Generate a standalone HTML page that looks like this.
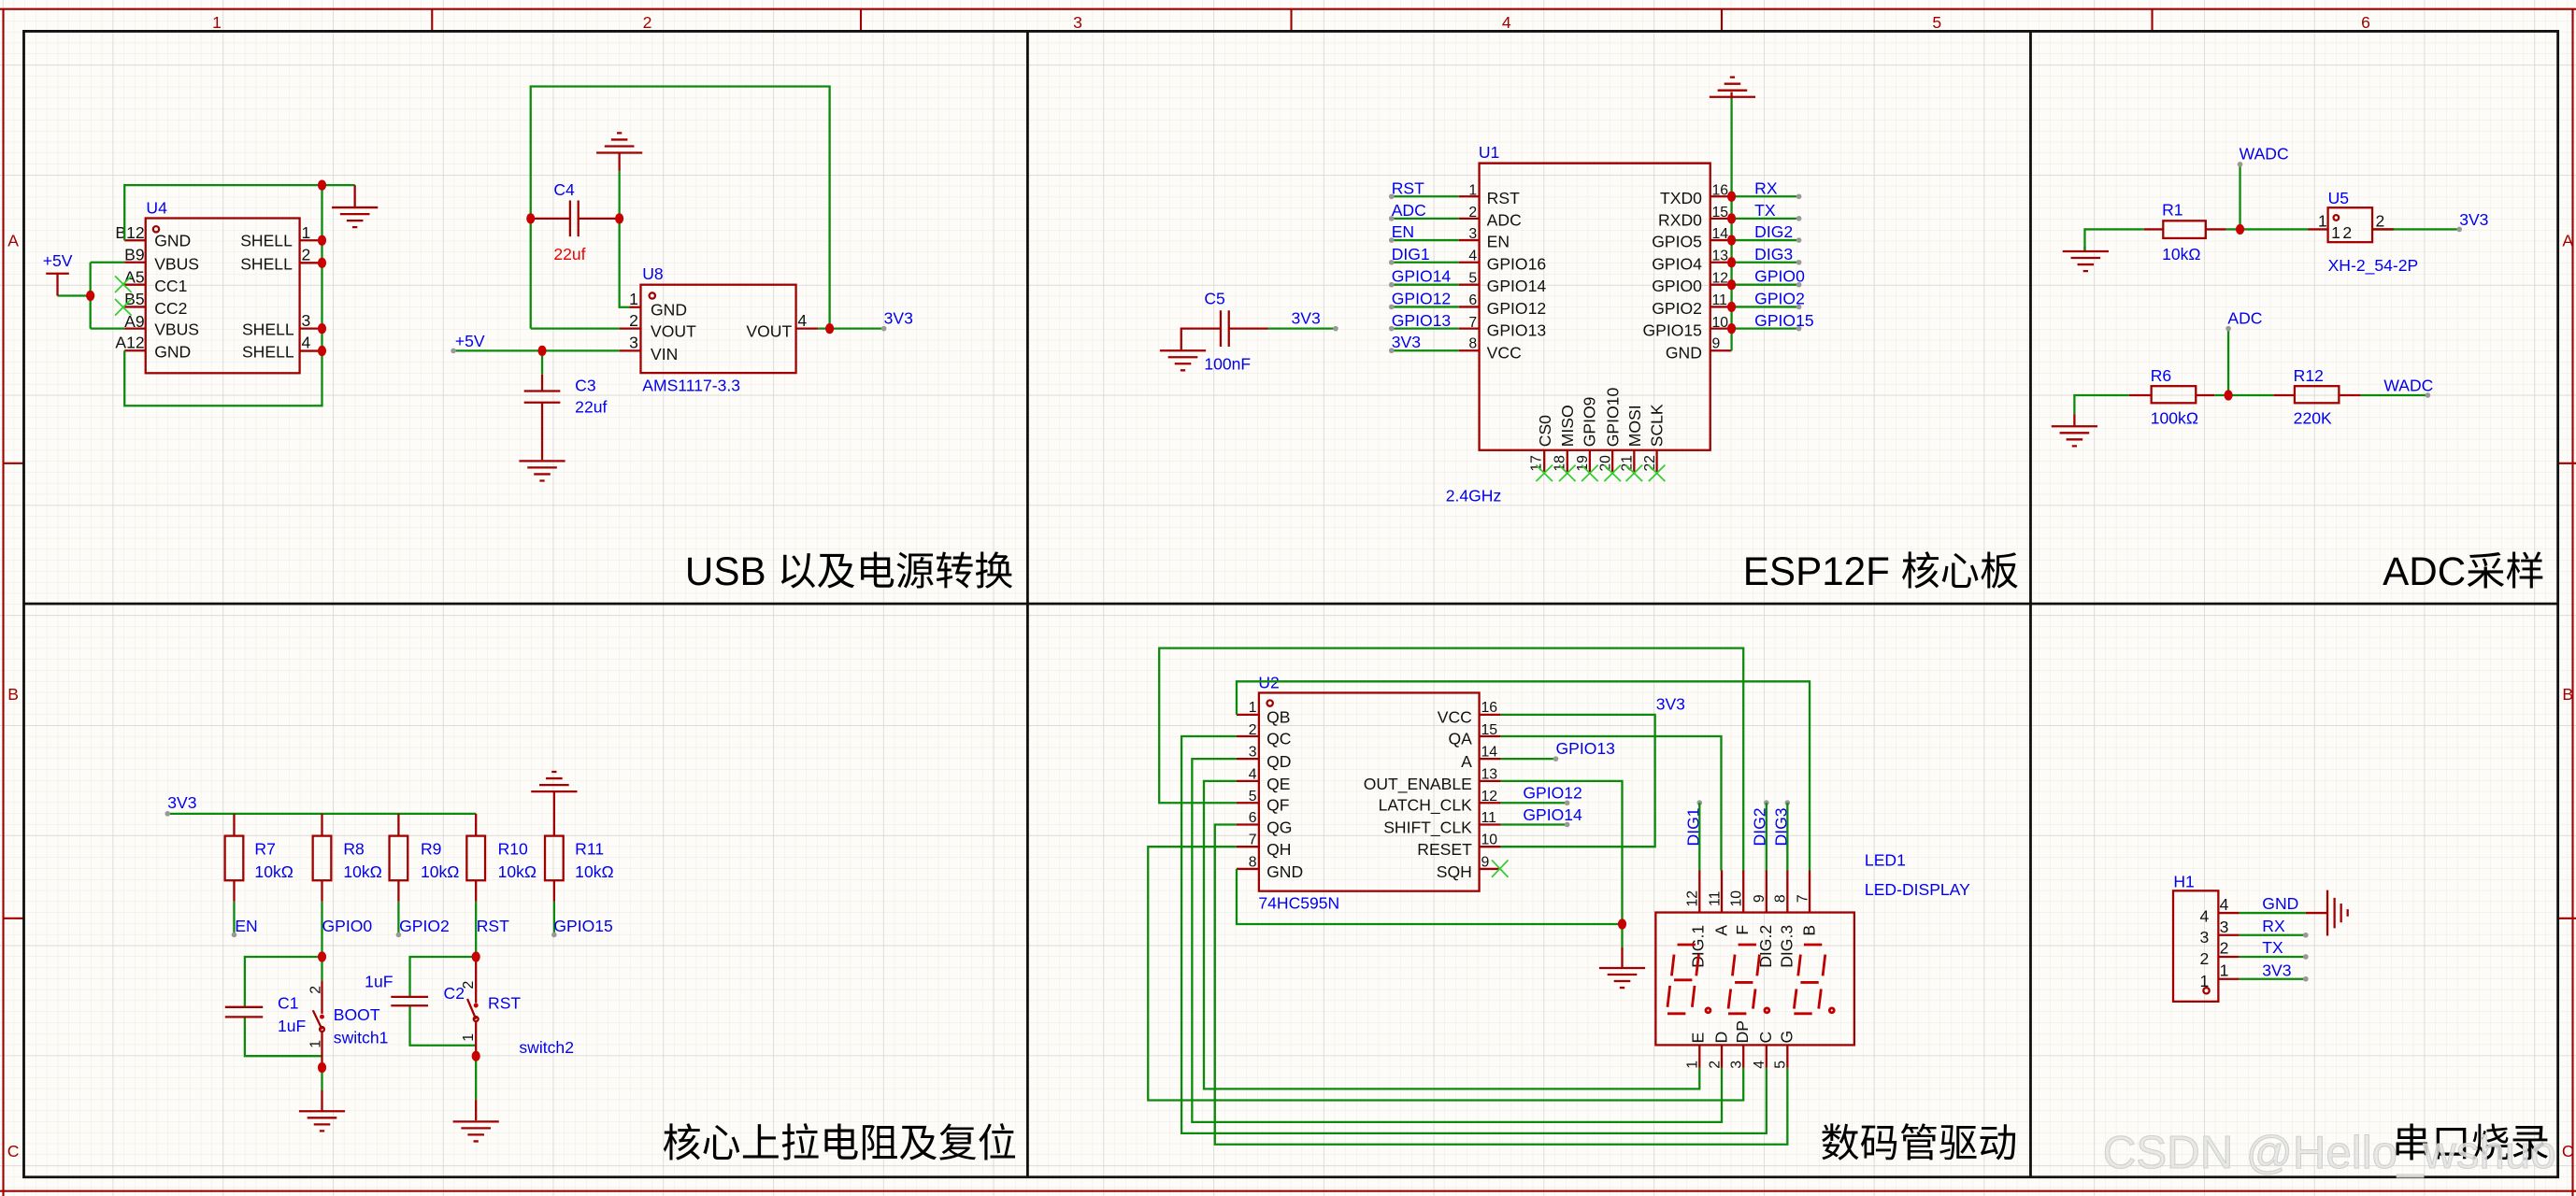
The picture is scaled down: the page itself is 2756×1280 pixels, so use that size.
<!DOCTYPE html>
<html><head><meta charset="utf-8"><style>
html,body{margin:0;padding:0;background:#fdfcf8;}
svg{display:block}
text{font-family:"Liberation Sans Narrow","Liberation Sans","Noto Sans CJK SC",sans-serif;}
.r{stroke:#a00000;fill:none;stroke-width:1.3}
.g{stroke:#0b8a0b;fill:none;stroke-width:1.3}
.x{stroke:#3c3;fill:none;stroke-width:1}
.b{fill:#0000ee;font-size:10px}
.k{fill:#111;font-size:10px}
.n{fill:#111;font-size:9px}
.t{fill:#000;font-size:24px;font-family:"Liberation Sans","Noto Sans CJK SC",sans-serif}
.cf{fill:#a00000;font-size:10px;font-family:"Liberation Serif",serif}
</style></head><body>
<svg width="2756" height="1280" viewBox="0 0 1568 728" preserveAspectRatio="none" xmlns="http://www.w3.org/2000/svg">
<defs>
<pattern id="fg" x="1.6" y="5.9" width="6.7" height="6.7" patternUnits="userSpaceOnUse"><path d="M0 0H6.7M0 0V6.7" stroke="#ebe9e2" stroke-width="0.5" fill="none"/></pattern>
<pattern id="cg" x="1.6" y="39.4" width="67" height="67" patternUnits="userSpaceOnUse"><path d="M0 0H67M0 0V67" stroke="#d3d3d3" stroke-width="0.8" fill="none"/></pattern>
<g id="gnd"><path class="r" d="M-14 0H14M-9 4H9M-5 8H5M-1.5 12H1.5"/></g>
<g id="gnds"><path class="r" d="M-14 0H14M-9 4H9M-5 8H5M-1.5 12H1.5"/></g>
</defs>
<rect width="1568" height="728" fill="#fdfcf8"/>
<rect width="1568" height="728" fill="url(#fg)"/>
<rect width="1568" height="728" fill="url(#cg)"/>

<!-- frame -->
<path d="M0 5.5H1568M2 5.5V728M1566 5.5V728M0 725H1568" stroke="#a00000" stroke-width="1.2" fill="none"/>
<path d="M263 5.5V19M524 5.5V19M786 5.5V19M1048 5.5V19M1310 5.5V19M2 282H14M2 559H14M1557 282H1568M1557 559H1568" stroke="#a00000" stroke-width="1.2"/>
<g class="cf" text-anchor="middle">
<text x="132" y="17">1</text><text x="394" y="17">2</text><text x="656" y="17">3</text><text x="917" y="17">4</text><text x="1179" y="17">5</text><text x="1440" y="17">6</text>
<text x="8" y="150">A</text><text x="8" y="426">B</text><text x="8" y="704">C</text>
<text x="1563" y="150">A</text><text x="1563" y="426">B</text><text x="1563" y="704">C</text>
</g>
<path d="M14.5 19H1557V716.5H14.5Z M14.5 367.5H1557 M625.5 19V716.5 M1236 19V716.5" stroke="#111" stroke-width="1.6" fill="none"/>

<!-- titles -->
<text class="t" x="617" y="356" text-anchor="end">USB 以及电源转换</text>
<text class="t" x="1229" y="356" text-anchor="end">ESP12F 核心板</text>
<text class="t" x="1549" y="356" text-anchor="end">ADC采样</text>
<text class="t" x="619" y="704" text-anchor="end">核心上拉电阻及复位</text>
<text class="t" x="1228" y="704" text-anchor="end">数码管驱动</text>
<text class="t" x="1552" y="704" text-anchor="end">串口烧录</text>

<!-- ===== USB ===== -->
<rect x="88.6" y="132.8" width="93.8" height="94.3" class="r"/>
<circle cx="95" cy="139.5" r="1.8" class="r"/>
<text class="b" x="89" y="130">U4</text>
<path class="r" d="M75.8 146.3H88.6M75.8 159.7H88.6M75.8 173.3H88.6M75.8 186.8H88.6M75.8 200H88.6M75.8 213.4H88.6M182.4 146.3H196M182.4 160H196M182.4 200H196M182.4 213.6H196"/>
<g class="k" text-anchor="end"><text x="88" y="145">B12</text><text x="88" y="158.5">B9</text><text x="88" y="172">A5</text><text x="88" y="185.5">B5</text><text x="88" y="199">A9</text><text x="88" y="212">A12</text></g>
<g class="k"><text x="94" y="150">GND</text><text x="94" y="164">VBUS</text><text x="94" y="177.5">CC1</text><text x="94" y="191">CC2</text><text x="94" y="204">VBUS</text><text x="94" y="217.5">GND</text></g>
<g class="k" text-anchor="end"><text x="178" y="150">SHELL</text><text x="178" y="164">SHELL</text><text x="179" y="204">SHELL</text><text x="179" y="217.5">SHELL</text></g>
<g class="k"><text x="183.5" y="145">1</text><text x="183.5" y="158.5">2</text><text x="183.5" y="198.5">3</text><text x="183.5" y="212">4</text></g>
<path class="g" d="M75.8 146.3V112.7H216M196 112.7V247H75.8V213.4M35 180H55M55 159.7V200M55 159.7H75.8M55 200H75.8"/>
<path class="r" d="M216 112.7V126"/><use href="#gnd" x="216" y="126.3"/>
<path class="r" d="M28 166.5H42M35 166.5V180"/>
<text class="b" x="26" y="162">+5V</text>
<path class="x" d="M70 168L80 178M80 168L70 178M70 182L80 192M80 182L70 192"/>
<g fill="#c80000"><ellipse cx="196" cy="112.7" rx="2.6" ry="3.2"/><ellipse cx="196" cy="146.3" rx="2.6" ry="3.2"/><ellipse cx="196" cy="160" rx="2.6" ry="3.2"/><ellipse cx="196" cy="200" rx="2.6" ry="3.2"/><ellipse cx="196" cy="213.6" rx="2.6" ry="3.2"/><ellipse cx="55" cy="180" rx="2.6" ry="3.2"/></g>

<!-- C4 / U8 -->
<path class="g" d="M323 200V52.6H505V200M323 200H377M377 133V187H383"/>
<path class="g" d="M377 104V133"/>
<path class="r" d="M377 93V104"/><use href="#gnd" transform="translate(377 93) scale(1 -1)"/>
<path class="r" d="M323 133H347M352 133H377M347 122V144M352 122V144"/>
<text class="b" x="337" y="119">C4</text><text x="337" y="158" fill="#e00" font-size="10px">22uf</text>
<rect x="390" y="173.3" width="94.5" height="53.7" class="r"/>
<circle cx="397" cy="180" r="1.8" class="r"/>
<text class="b" x="391" y="170">U8</text>
<path class="r" d="M383 187H390M377 200H390M377 213.5H390M484.5 200H498"/>
<g class="k"><text x="396" y="192">GND</text><text x="396" y="205">VOUT</text><text x="396" y="219">VIN</text><text x="482" y="205" text-anchor="end">VOUT</text>
<text x="383" y="185.5">1</text><text x="383" y="198.5">2</text><text x="383" y="212">3</text><text x="485.5" y="198.5">4</text></g>
<path class="g" d="M498 200H538M276 213.5H377M330 213.5V228"/>
<circle cx="538" cy="200" r="1.6" fill="#999"/><circle cx="276" cy="213.5" r="1.6" fill="#999"/>
<text class="b" x="538" y="197">3V3</text><text class="b" x="277" y="211">+5V</text>
<text class="b" x="391" y="238">AMS1117-3.3</text>
<path class="r" d="M330 228V238M319 238H341M319 245H341M330 245V280"/>
<use href="#gnd" x="330" y="280.6"/>
<text class="b" x="350" y="238">C3</text><text class="b" x="350" y="251">22uf</text>
<g fill="#c80000"><ellipse cx="323" cy="133" rx="2.6" ry="3.2"/><ellipse cx="377" cy="133" rx="2.6" ry="3.2"/><ellipse cx="505" cy="200" rx="2.6" ry="3.2"/><ellipse cx="330" cy="213.5" rx="2.6" ry="3.2"/></g>

<!-- ===== ESP ===== -->
<rect x="900.4" y="99.3" width="140.6" height="174.7" class="r"/>
<path class="r" d="M900.4 99.3H1041" stroke-width="2"/>
<text class="b" x="900" y="96">U1</text>
<path class="r" d="M888 119.6H900.4M888 133H900.4M888 146.2H900.4M888 159.7H900.4M888 173.3H900.4M888 186.8H900.4M888 200H900.4M888 213.4H900.4M1041 119.6H1054M1041 133H1054M1041 146.2H1054M1041 159.7H1054M1041 173.3H1054M1041 186.8H1054M1041 200H1054M1041 213.4H1054"/>
<path class="g" d="M847 119.6H888M847 133H888M847 146.2H888M847 159.7H888M847 173.3H888M847 186.8H888M847 200H888M847 213.4H888M1054 119.6H1095M1054 133H1095M1054 146.2H1095M1054 159.7H1095M1054 173.3H1095M1054 186.8H1095M1054 200H1095M1054 213.4V60"/>
<path class="r" d="M1054 60V56"/><use href="#gnd" transform="translate(1054.5 59) scale(1 -1)"/>
<g fill="#999"><circle cx="847" cy="119.6" r="1.6"/><circle cx="847" cy="133" r="1.6"/><circle cx="847" cy="146.2" r="1.6"/><circle cx="847" cy="159.7" r="1.6"/><circle cx="847" cy="173.3" r="1.6"/><circle cx="847" cy="186.8" r="1.6"/><circle cx="847" cy="200" r="1.6"/><circle cx="847" cy="213.4" r="1.6"/>
<circle cx="1095" cy="119.6" r="1.6"/><circle cx="1095" cy="133" r="1.6"/><circle cx="1095" cy="146.2" r="1.6"/><circle cx="1095" cy="159.7" r="1.6"/><circle cx="1095" cy="173.3" r="1.6"/><circle cx="1095" cy="186.8" r="1.6"/><circle cx="1095" cy="200" r="1.6"/></g>
<g fill="#c80000"><ellipse cx="1054" cy="119.6" rx="2.6" ry="3.2"/><ellipse cx="1054" cy="133" rx="2.6" ry="3.2"/><ellipse cx="1054" cy="146.2" rx="2.6" ry="3.2"/><ellipse cx="1054" cy="159.7" rx="2.6" ry="3.2"/><ellipse cx="1054" cy="173.3" rx="2.6" ry="3.2"/><ellipse cx="1054" cy="186.8" rx="2.6" ry="3.2"/><ellipse cx="1054" cy="200" rx="2.6" ry="3.2"/></g>
<g class="b"><text x="847" y="118">RST</text><text x="847" y="131.5">ADC</text><text x="847" y="144.5">EN</text><text x="847" y="158">DIG1</text><text x="847" y="171.5">GPIO14</text><text x="847" y="185">GPIO12</text><text x="847" y="198.5">GPIO13</text><text x="847" y="211.5">3V3</text>
<text x="1068" y="118">RX</text><text x="1068" y="131.5">TX</text><text x="1068" y="144.5">DIG2</text><text x="1068" y="158">DIG3</text><text x="1068" y="171.5">GPIO0</text><text x="1068" y="185">GPIO2</text><text x="1068" y="198.5">GPIO15</text></g>
<g class="k"><text x="905" y="124">RST</text><text x="905" y="137.5">ADC</text><text x="905" y="150.5">EN</text><text x="905" y="164">GPIO16</text><text x="905" y="177.5">GPIO14</text><text x="905" y="191">GPIO12</text><text x="905" y="204.5">GPIO13</text><text x="905" y="218">VCC</text></g>
<g class="k" text-anchor="end"><text x="1036" y="124">TXD0</text><text x="1036" y="137.5">RXD0</text><text x="1036" y="150.5">GPIO5</text><text x="1036" y="164">GPIO4</text><text x="1036" y="177.5">GPIO0</text><text x="1036" y="191">GPIO2</text><text x="1036" y="204.5">GPIO15</text><text x="1036" y="218">GND</text></g>
<g class="n" text-anchor="end"><text x="899" y="118.5">1</text><text x="899" y="132">2</text><text x="899" y="145">3</text><text x="899" y="158.5">4</text><text x="899" y="172">5</text><text x="899" y="185.5">6</text><text x="899" y="199">7</text><text x="899" y="212">8</text></g>
<g class="n"><text x="1042" y="118.5">16</text><text x="1042" y="132">15</text><text x="1042" y="145">14</text><text x="1042" y="158.5">13</text><text x="1042" y="172">12</text><text x="1042" y="185.5">11</text><text x="1042" y="199">10</text><text x="1042" y="212">9</text></g>
<g class="k" font-size="9px">
<text transform="translate(944 272) rotate(-90)">CS0</text><text transform="translate(957.5 272) rotate(-90)">MISO</text><text transform="translate(971 272) rotate(-90)">GPIO9</text><text transform="translate(985 272) rotate(-90)">GPIO10</text><text transform="translate(998.5 272) rotate(-90)">MOSI</text><text transform="translate(1012 272) rotate(-90)">SCLK</text>
</g>
<path class="r" d="M940 274V288M954 274V288M967.7 274V288M981.5 274V288M994.7 274V288M1008.5 274V288"/>
<g class="n" text-anchor="middle"><text transform="translate(938 282) rotate(-90)">17</text><text transform="translate(952 282) rotate(-90)">18</text><text transform="translate(966 282) rotate(-90)">19</text><text transform="translate(980 282) rotate(-90)">20</text><text transform="translate(993 282) rotate(-90)">21</text><text transform="translate(1007 282) rotate(-90)">22</text></g>
<path class="x" d="M935 283L945 293M945 283L935 293M949 283L959 293M959 283L949 293M962.7 283L972.7 293M972.7 283L962.7 293M976.5 283L986.5 293M986.5 283L976.5 293M989.7 283L999.7 293M999.7 283L989.7 293M1003.5 283L1013.5 293M1013.5 283L1003.5 293"/>
<text class="b" x="880" y="305">2.4GHz</text>
<!-- C5 -->
<path class="r" d="M719 213V200H743M748 200H772M743 189V211M748 189V211"/>
<path class="g" d="M772 200H813"/><circle cx="813" cy="200" r="1.6" fill="#999"/>
<use href="#gnd" x="720" y="213.4"/>
<text class="b" x="733" y="185">C5</text><text class="b" x="786" y="197">3V3</text><text class="b" x="733" y="225">100nF</text>

<!-- ===== ADC ===== -->
<rect x="1316.7" y="134.4" width="25.9" height="10.6" class="r"/>
<path class="r" d="M1305 139.6H1316.7M1342.6 139.6H1355M1405 139.6H1417M1269 150V153"/>
<path class="g" d="M1269 153V139.6H1305M1355 139.6H1405M1363.5 139.6V100M1444 139.6H1457"/>
<path class="r" d="M1444 139.6H1457"/><path class="g" d="M1457 139.6H1497"/>
<use href="#gnd" x="1269.5" y="153"/>
<circle cx="1363.5" cy="100" r="1.6" fill="#999"/><circle cx="1497" cy="139.6" r="1.6" fill="#999"/>
<ellipse cx="1363.5" cy="139.6" rx="2.6" ry="3.2" fill="#c80000"/>
<text class="b" x="1363" y="97">WADC</text><text class="b" x="1316" y="131">R1</text><text class="b" x="1316" y="158">10kΩ</text>
<rect x="1417" y="126.4" width="27" height="21" class="r"/>
<circle cx="1422" cy="132.5" r="1.6" class="r"/>
<text class="b" x="1417" y="124">U5</text>
<g class="k" font-size="9px"><text x="1419" y="145">1</text><text x="1426" y="145">2</text><text x="1411" y="138">1</text><text x="1446" y="138">2</text></g>
<text class="b" x="1497" y="137">3V3</text><text class="b" x="1417" y="165">XH-2_54-2P</text>

<rect x="1309.5" y="235" width="27.1" height="10.3" class="r"/>
<rect x="1396.7" y="235" width="27" height="10.3" class="r"/>
<path class="r" d="M1296 240.6H1309.5M1336.6 240.6H1348M1384 240.6H1396.7M1423.7 240.6H1437M1262.7 252V259"/>
<path class="g" d="M1262.7 252V240.6H1296M1348 240.6H1384M1356.4 240.6V200M1437 240.6H1477.8"/>
<use href="#gnd" x="1262.7" y="259.5"/>
<circle cx="1356.4" cy="200" r="1.6" fill="#999"/><circle cx="1477.8" cy="240.6" r="1.6" fill="#999"/>
<ellipse cx="1356.4" cy="240.6" rx="2.6" ry="3.2" fill="#c80000"/>
<text class="b" x="1356" y="197">ADC</text><text class="b" x="1309" y="232">R6</text><text class="b" x="1309" y="258">100kΩ</text>
<text class="b" x="1396" y="232">R12</text><text class="b" x="1396" y="258">220K</text><text class="b" x="1451" y="238">WADC</text>

<!-- ===== Pull-ups ===== -->
<path class="g" d="M102 495.3H289.7"/><circle cx="102" cy="495.3" r="1.6" fill="#999"/>
<text class="b" x="102" y="492">3V3</text>
<g class="r">
<rect x="136.9" y="508.8" width="11.2" height="27.1"/><rect x="190.4" y="508.8" width="11.2" height="27.1"/><rect x="237" y="508.8" width="11.2" height="27.1"/><rect x="284.1" y="508.8" width="11.2" height="27.1"/><rect x="331.7" y="508.8" width="11.2" height="27.1"/>
<path d="M142.5 495.3V508.8M196 495.3V508.8M242.6 495.3V508.8M289.7 495.3V508.8M337.3 481.8V508.8M142.5 535.9V548.7M196 535.9V548.7M242.6 535.9V548.7M289.7 535.9V548.7M337.3 535.9V548.7"/>
</g>
<use href="#gnd" transform="translate(337.3 481.8) scale(1 -1)"/>
<path class="g" d="M142.5 548.7V569M196 548.7V582.4M242.6 548.7V569M289.7 548.7V582.4M337.3 548.7V569"/>
<g fill="#999"><circle cx="142.5" cy="569" r="1.6"/><circle cx="242.6" cy="569" r="1.6"/><circle cx="337.3" cy="569" r="1.6"/></g>
<g class="b"><text x="155" y="520">R7</text><text x="155" y="534">10kΩ</text><text x="209" y="520">R8</text><text x="209" y="534">10kΩ</text><text x="256" y="520">R9</text><text x="256" y="534">10kΩ</text><text x="303" y="520">R10</text><text x="303" y="534">10kΩ</text><text x="350" y="520">R11</text><text x="350" y="534">10kΩ</text>
<text x="143" y="567">EN</text><text x="196" y="567">GPIO0</text><text x="243" y="567">GPIO2</text><text x="290" y="567">RST</text><text x="337" y="567">GPIO15</text></g>
<!-- C1/switch1 -->
<path class="g" d="M196 582.4H149V613M149 619V642.8H196M196 582.4V597M196 663.7V649.8"/>
<path class="r" d="M137 613H160M137 619H160M196 597V617M196 628.5V649.8M196 663.7V676"/>
<circle cx="196" cy="618.9" r="1.4" fill="#c80000"/><circle cx="196" cy="626.5" r="1.4" class="r"/>
<path class="r" d="M196 626.5L190.5 615"/>
<use href="#gnd" x="196" y="676.4"/>
<g fill="#c80000"><ellipse cx="196" cy="582.4" rx="2.6" ry="3.2"/><ellipse cx="196" cy="649.8" rx="2.6" ry="3.2"/></g>
<g class="n"><text transform="translate(195 605) rotate(-90)">2</text><text transform="translate(195 638) rotate(-90)">1</text></g>
<g class="b"><text x="169" y="614">C1</text><text x="169" y="628">1uF</text><text x="203" y="621">BOOT</text><text x="203" y="635">switch1</text></g>
<!-- C2/switch2 -->
<path class="g" d="M289.7 582.4H249.5V606.8M249.5 612.1V636.3H289.7M289.7 669.5V642.8"/>
<path class="r" d="M238 606.8H260.6M238 612.1H260.6M289.7 582.4V610.5M289.7 621.8V642.8M289.7 669.5V682"/>
<circle cx="289.7" cy="612" r="1.4" fill="#c80000"/><circle cx="289.7" cy="620.3" r="1.4" class="r"/>
<path class="r" d="M289.7 620.3L284.5 608"/>
<use href="#gnd" x="289.7" y="682.7"/>
<g fill="#c80000"><ellipse cx="289.7" cy="582.4" rx="2.6" ry="3.2"/><ellipse cx="289.7" cy="642.8" rx="2.6" ry="3.2"/></g>
<g class="n"><text transform="translate(288 602) rotate(-90)">2</text><text transform="translate(288 634) rotate(-90)">1</text></g>
<g class="b"><text x="222" y="601">1uF</text><text x="270" y="608">C2</text><text x="297" y="614">RST</text><text x="316" y="641">switch2</text></g>

<!-- ===== 74HC595 ===== -->
<rect x="766.3" y="421.7" width="134.1" height="120.7" class="r"/>
<circle cx="773" cy="428" r="1.8" class="r"/>
<text class="b" x="766" y="419">U2</text>
<path class="r" d="M752.7 435H766.3M752.7 448.2H766.3M752.7 461.9H766.3M752.7 475.4H766.3M752.7 488.7H766.3M752.7 501.9H766.3M752.7 515.4H766.3M752.7 528.9H766.3M900.4 435H913.5M900.4 448.2H913.5M900.4 461.9H913.5M900.4 475.4H913.5M900.4 488.7H913.5M900.4 501.9H913.5M900.4 515.4H913.5M900.4 528.9H913.5"/>
<g class="k"><text x="771" y="440">QB</text><text x="771" y="453">QC</text><text x="771" y="467">QD</text><text x="771" y="480.5">QE</text><text x="771" y="493.5">QF</text><text x="771" y="507">QG</text><text x="771" y="520.5">QH</text><text x="771" y="534">GND</text></g>
<g class="k" text-anchor="end"><text x="896" y="440">VCC</text><text x="896" y="453">QA</text><text x="896" y="467">A</text><text x="896" y="480.5">OUT_ENABLE</text><text x="896" y="493.5">LATCH_CLK</text><text x="896" y="507">SHIFT_CLK</text><text x="896" y="520.5">RESET</text><text x="896" y="534">SQH</text></g>
<g class="n" text-anchor="end"><text x="765" y="433.5">1</text><text x="765" y="447">2</text><text x="765" y="460.5">3</text><text x="765" y="474">4</text><text x="765" y="487.5">5</text><text x="765" y="500.5">6</text><text x="765" y="514">7</text><text x="765" y="527.5">8</text></g>
<g class="n"><text x="901.5" y="433.5">16</text><text x="901.5" y="447">15</text><text x="901.5" y="460.5">14</text><text x="901.5" y="474">13</text><text x="901.5" y="487.5">12</text><text x="901.5" y="500.5">11</text><text x="901.5" y="514">10</text><text x="901.5" y="527.5">9</text></g>
<text class="b" x="766" y="553">74HC595N</text>
<path class="x" d="M908 523.5L918 534M918 523.5L908 534"/>
<path class="g" d="M913.5 435H1007.4V515.4H913.5M913.5 448.2H1047.7V529.8M913.5 461.9H947M913.5 475.4H987.4V576.7M752.7 528.9V562.5H987.4M913.5 488.7H953.9M913.5 501.9H953.9"/>
<path class="r" d="M987.4 576.7V589"/><use href="#gnd" x="987.4" y="589.2"/>
<ellipse cx="987.4" cy="562.5" rx="2.6" ry="3.2" fill="#c80000"/>
<g fill="#999"><circle cx="947" cy="461.9" r="1.6"/><circle cx="953.9" cy="488.7" r="1.6"/><circle cx="953.9" cy="501.9" r="1.6"/><circle cx="1034.5" cy="488.6" r="1.6"/><circle cx="1075.2" cy="488.6" r="1.6"/><circle cx="1088" cy="488.6" r="1.6"/></g>
<g class="b"><text x="1008" y="432">3V3</text><text x="947" y="459">GPIO13</text><text x="927" y="486">GPIO12</text><text x="927" y="499.5">GPIO14</text><text x="1135" y="527">LED1</text><text x="1135" y="545">LED-DISPLAY</text>
<text transform="translate(1034 515) rotate(-90)">DIG1</text><text transform="translate(1074.5 515) rotate(-90)">DIG2</text><text transform="translate(1087.5 515) rotate(-90)">DIG3</text></g>
<!-- LED routing -->
<path class="g" d="M1034.5 529.8V488.6M1075.2 529.8V488.6M1088 529.8V488.6M1061.2 529.8V394.5H705.6V488.7H752.7M1101.5 529.8V414.8H752.7V435"/>
<path class="g" d="M1034.5 650V662.8H732.8V475.4H752.7M1048 650V683H725.6V461.9H752.7M1061.2 650V669.7H698.8V515.4H752.7M1075.2 650V689.8H719.2V448.2H752.7M1088 650V696.6H739.5V501.9H752.7"/>
<rect x="1007.8" y="555.4" width="120.9" height="80.7" class="r"/>
<path class="r" d="M1034.5 529.8V555.4M1048 529.8V555.4M1061.2 529.8V555.4M1075.2 529.8V555.4M1088 529.8V555.4M1101.5 529.8V555.4M1034.5 636.1V650M1048 636.1V650M1061.2 636.1V650M1075.2 636.1V650M1088 636.1V650"/>
<g class="n" text-anchor="middle"><text transform="translate(1033 547) rotate(-90)">12</text><text transform="translate(1046.5 547) rotate(-90)">11</text><text transform="translate(1059.7 547) rotate(-90)">10</text><text transform="translate(1073.7 547) rotate(-90)">9</text><text transform="translate(1086.5 547) rotate(-90)">8</text><text transform="translate(1100 547) rotate(-90)">7</text>
<text transform="translate(1033 648) rotate(-90)">1</text><text transform="translate(1046.5 648) rotate(-90)">2</text><text transform="translate(1059.7 648) rotate(-90)">3</text><text transform="translate(1073.7 648) rotate(-90)">4</text><text transform="translate(1086.5 648) rotate(-90)">5</text></g>
<g class="k" font-size="9.5px" text-anchor="end"><text transform="translate(1037 563) rotate(-90)">DIG.1</text><text transform="translate(1051 563) rotate(-90)">A</text><text transform="translate(1064 563) rotate(-90)">F</text><text transform="translate(1078 563) rotate(-90)">DIG.2</text><text transform="translate(1091 563) rotate(-90)">DIG.3</text><text transform="translate(1104.5 563) rotate(-90)">B</text></g>
<g class="k" font-size="9.5px"><text transform="translate(1037 635) rotate(-90)">E</text><text transform="translate(1051 635) rotate(-90)">D</text><text transform="translate(1064 635) rotate(-90)">DP</text><text transform="translate(1078 635) rotate(-90)">C</text><text transform="translate(1091 635) rotate(-90)">G</text></g>
<g stroke="#c00000" stroke-width="1.6" fill="none">
<path d="M1021 575H1032M1019 581L1017.5 594M1034 581L1032.5 594M1019 596.5H1030M1016.5 600L1015 613M1031.5 600L1030 613M1015 617H1026"/><circle cx="1039.7" cy="615" r="1.4"/>
<path d="M1058 575H1069M1056 581L1054.5 594M1071 581L1069.5 594M1056 598H1067M1053.5 602L1052 614M1068.5 602L1067 614M1052 617H1063"/><circle cx="1075.5" cy="615" r="1.4"/>
<path d="M1098 575H1109M1096 581L1094.5 594M1111 581L1109.5 594M1096 598H1107M1093.5 602L1092 614M1108.5 602L1107 614M1092 617H1103"/><circle cx="1115" cy="615" r="1.4"/>
</g>

<!-- ===== Serial ===== -->
<rect x="1322.8" y="542.2" width="27.5" height="67.4" class="r"/>
<circle cx="1343" cy="603" r="1.8" class="r"/>
<text class="b" x="1323" y="540" font-family="Liberation Sans,sans-serif">H1</text>
<path class="r" d="M1350.3 555.7H1363M1350.3 569.2H1363M1350.3 582.4H1363M1350.3 595.9H1363M1403.5 555.7H1416.7M1416.7 541.8V569.6M1421 546.5V565M1425 550V561.5M1429 553.5V557.8"/>
<path class="g" d="M1363 555.7H1403.5M1363 569.2H1403.5M1363 582.4H1403.5M1363 595.9H1403.5"/>
<g fill="#999"><circle cx="1403.5" cy="569.2" r="1.6"/><circle cx="1403.5" cy="582.4" r="1.6"/><circle cx="1403.5" cy="595.9" r="1.6"/></g>
<g class="b" font-family="Liberation Sans,sans-serif"><text x="1377" y="553.5">GND</text><text x="1377" y="567">RX</text><text x="1377" y="580">TX</text><text x="1377" y="594">3V3</text></g>
<g class="k" font-family="Liberation Sans,sans-serif" font-size="9.5px"><text x="1339" y="561">4</text><text x="1339" y="574">3</text><text x="1339" y="587">2</text><text x="1339" y="600.5">1</text><text x="1351" y="554">4</text><text x="1351" y="567.5">3</text><text x="1351" y="580.5">2</text><text x="1351" y="594">1</text></g>

<!-- watermark -->
<text x="1280" y="711" font-family="Liberation Sans,sans-serif" font-size="28px" fill="#e4e4e4" fill-opacity="0.85" stroke="#cfcfcf" stroke-width="0.6">CSDN @Hello_wshuo</text>
</svg>
</body></html>
